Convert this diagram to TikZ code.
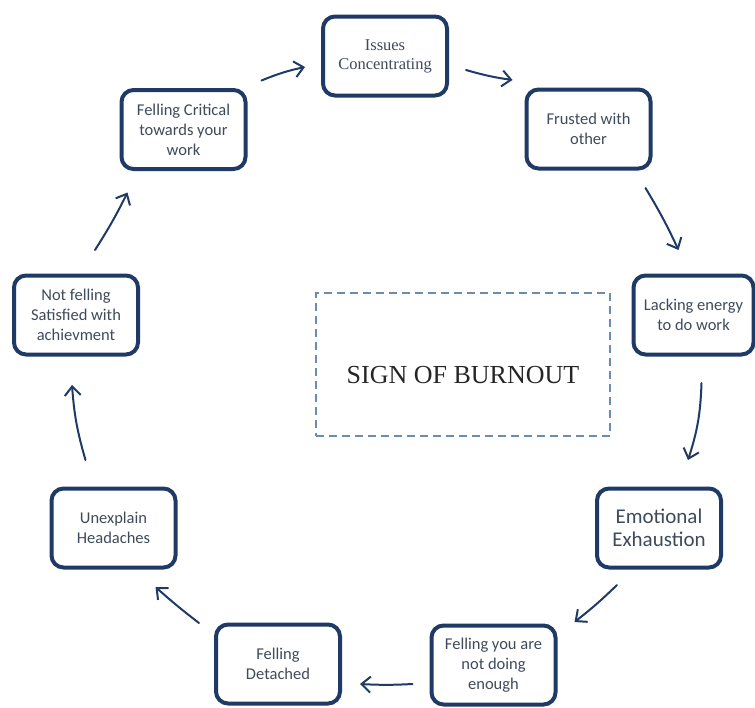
\documentclass[tikz,border=0pt]{standalone}
\usepackage{fontspec}
\setmainfont{Liberation Serif}
\newfontfamily\cbr{Carlito}
\usetikzlibrary{arrows.meta}
\definecolor{navy}{HTML}{203A66}
\definecolor{txtgray}{HTML}{3F4A5A}
\definecolor{dashblue}{HTML}{6A8CB0}
\tikzset{
  stepbox/.style={draw=navy, line width=4pt, rounded corners=12pt, fill=white,
    minimum width=124pt, minimum height=79pt, inner sep=2pt, align=center,
    text=txtgray, font=\cbr\fontsize{16.5}{20}\selectfont},
  arr/.style={draw=navy, line width=2pt, line cap=round,
    -{Straight Barb[length=9pt,width=16pt,line width=2pt]}},
  framebox/.style={draw=dashblue, line width=2pt, dash pattern=on 8pt off 5pt,
    minimum width=294pt, minimum height=143pt, inner sep=0pt},
}
\begin{document}
\begin{tikzpicture}[x=1pt,y=-1pt]
\useasboundingbox (0,0) rectangle (755,707);
\node[stepbox, font=\rmfamily\fontsize{16.5}{19}\selectfont] (n1) at (385,56) {Issues\\Concentrating};
\node[stepbox] (n2) at (588.5,129) {Frusted with\\other};
\node[stepbox, minimum width=120pt] (n3) at (693.5,315) {Lacking energy\\to do work};
\node[stepbox, font=\cbr\fontsize{21}{23}\selectfont] (n4) at (659,528) {Emotional\\Exhaustion};
\node[stepbox] (n5) at (493.5,665) {Felling you are\\not doing\\enough};
\node[stepbox] (n6) at (278,664) {Felling\\Detached};
\node[stepbox] (n7) at (113.5,528) {Unexplain\\Headaches};
\node[stepbox] (n8) at (76,315) {Not felling\\Satisfied with\\achievment};
\node[stepbox] (n9) at (183.5,129.5) {Felling Critical\\towards your\\work};
\node[framebox] (frame) at (463,364.5) {};
\node[font=\rmfamily\fontsize{26}{30}\selectfont, text=black!85] (title) at (463,375) {SIGN OF BURNOUT};
% connectors
\draw[arr] ([shift={(78,-49)}]n9.center) to[bend left=5] ([shift={(-80,11)}]n1.center);
\draw[arr] ([shift={(81,14)}]n1.center) to[bend right=4] ([shift={(-76,-49)}]n2.center);
\draw[arr] ([shift={(57,59)}]n2.center) to[bend left=3] ([shift={(-15,-65)}]n3.center);
\draw[arr] ([shift={(8,68)}]n3.center) to[bend left=8] ([shift={(29,-68)}]n4.center);
\draw[arr] ([shift={(-42,57)}]n4.center) to[bend left=3] ([shift={(81,-43)}]n5.center);
\draw[arr] ([shift={(-81,19)}]n5.center) to[bend left=3] ([shift={(82,20)}]n6.center);
\draw[arr] ([shift={(-79,-41)}]n6.center) to[bend left=2] ([shift={(42,59)}]n7.center);
\draw[arr] ([shift={(-28,-68)}]n7.center) to[bend left=6] ([shift={(-4,70)}]n8.center);
\draw[arr] ([shift={(19,-65)}]n8.center) to[bend right=3] ([shift={(-56,63)}]n9.center);
\end{tikzpicture}
\end{document}
